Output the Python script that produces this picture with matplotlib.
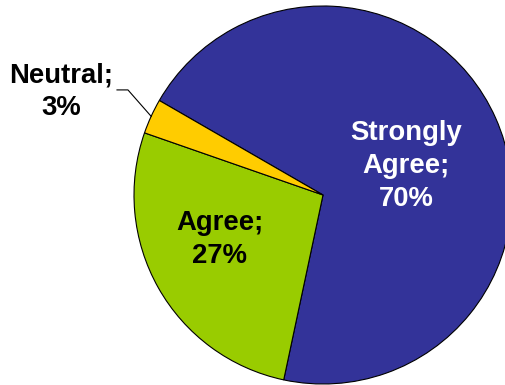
import numpy as np
import matplotlib.pyplot as plt

# survey answers
labels = ["Strongly\nAgree;\n70%", "Agree;\n27%", "Neutral;\n3%"]
values = [70, 27, 3]
colors = ["#333399", "#99CC00", "#FFCC00"]
text_colors = ["white", "black", "black"]

W, H = 506, 385
cx, cy, R = 323, 195, 189   # pie centre and radius in pixels

fig = plt.figure(figsize=(W / 100, H / 100), dpi=100)
ax = fig.add_axes([0, 0, 1, 1])

wedges, _ = ax.pie(values, colors=colors, startangle=150, counterclock=False,
                   wedgeprops=dict(edgecolor="black", linewidth=0.8))

ax.set_aspect("auto")
ax.set_xlim(-cx / R, (W - cx) / R)
ax.set_ylim(-(H - cy) / R, cy / R)
ax.axis("off")

font = dict(family=["Liberation Sans", "DejaVu Sans"], fontweight="bold",
            fontsize=19.8, ha="center", va="center", linespacing=1.35)

# label spots inside / outside slices
spots = [(0.439, 0.153), (-0.545, -0.238), (-1.386, 0.545)]
for lab, (x, y), c in zip(labels, spots, text_colors):
    ax.text(x, y, lab, color=c, **font)

# leader line for the small slice
w = wedges[2]
mid = np.deg2rad((w.theta1 + w.theta2) / 2)
ax.plot([-1.090, -1.032, np.cos(mid)], [0.556, 0.556, np.sin(mid)],
        color="black", linewidth=0.8)

fig.savefig("out.png", dpi=100)
